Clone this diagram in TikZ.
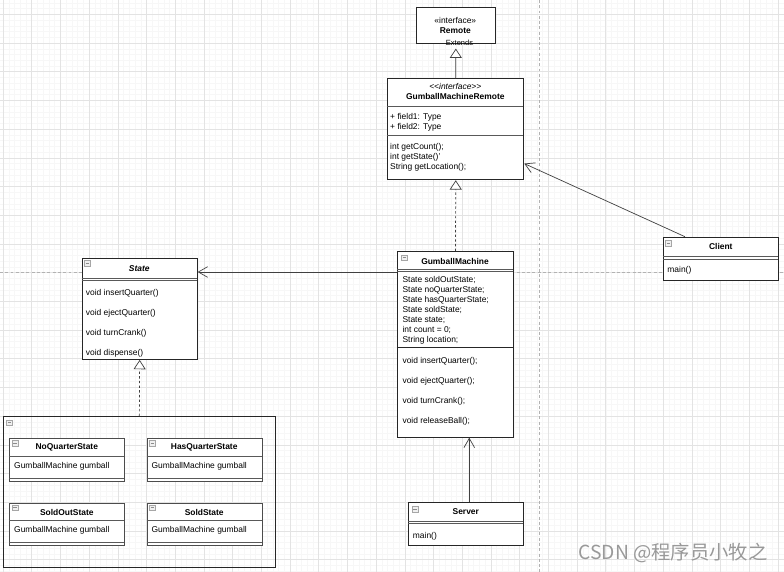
\documentclass[tikz,border=0pt]{standalone}
\usepackage{fontspec}
\setmainfont{Liberation Sans}
\newfontfamily\cjkfont{Noto Sans CJK SC}
\usetikzlibrary{arrows.meta,shapes}

\tikzset{
  cls/.style={draw=black!85, line width=0.8pt, fill=white, anchor=north west, inner sep=0pt},
  sub/.style={cls, draw=black!70, line width=0.7pt},
  sep/.style={draw=black!65, line width=0.6pt},
  icon/.style={draw=gray!70, fill=gray!12, line width=0.4pt, minimum size=0.17cm, inner sep=0pt,
    path picture={\draw[gray!90, line width=0.5pt] ([xshift=1pt]path picture bounding box.west) -- ([xshift=-1pt]path picture bounding box.east);}},
  txt/.style={font=\fontsize{7.2}{8.5}\selectfont, inner sep=0pt},
  hd/.style={font=\fontsize{7.2}{8.5}\selectfont\bfseries, inner sep=0pt},
  lst/.style={font=\fontsize{7.2}{8.5}\selectfont, inner sep=0pt, align=left, anchor=north west},
  wide/.style={font=\fontsize{7.2}{17}\selectfont, inner sep=0pt, align=left, anchor=north west},
  assoc/.style={draw=black!75, line width=0.6pt, -{Straight Barb[length=0.28cm, width=0.32cm]}},
  inherit/.style={draw=black!75, line width=0.6pt, -{Triangle[open, length=0.28cm, width=0.36cm, fill=white]}},
  realize/.style={inherit, dash pattern=on 2pt off 2pt},
  gridminor/.style={draw=black!3, line width=0.35pt},
  gridmajor/.style={draw=black!11, line width=0.5pt},
  pagebreak/.style={draw=black!30, line width=0.5pt, dash pattern=on 2.5pt off 2pt}
}

\begin{document}
\begin{tikzpicture}[x=0.03cm, y=-0.03cm]
\useasboundingbox (0,0) rectangle (784,572);

% Background grid
\fill[white] (0,0) rectangle (784,572);
\foreach \i in {0,...,136} \draw[gridminor] ({-2.74+5.74*\i},0) -- ({-2.74+5.74*\i},572);
\foreach \i in {0,...,99} \draw[gridminor] (0,{2.82+5.74*\i}) -- (784,{2.82+5.74*\i});
\foreach \i in {0,...,27} \draw[gridmajor] ({3+28.7*\i},0) -- ({3+28.7*\i},572);
\foreach \i in {0,...,19} \draw[gridmajor] (0,{14.3+28.7*\i}) -- (784,{14.3+28.7*\i});

% Page breaks
\draw[pagebreak] (539.5,0) -- (539.5,572);
\draw[pagebreak] (0,272) -- (784,272);

% Remote
\node[cls, minimum width=2.38cm, minimum height=1.06cm] (remote) at (415.7,7.3) {};
\node[txt] (remoteint) at (455.3,20.7) {«interface»};
\node[hd] (remotename) at (455.3,30.3) {Remote};

% GumballMachineRemote
\node[cls, minimum width=4.08cm, minimum height=3.03cm] (gmr) at (387.3,78.3) {};
\node[txt, font=\fontsize{7.2}{8.5}\selectfont\itshape] (gmrint) at (455.3,86.7) {\textless\kern0pt\textless interface\textgreater\kern0pt\textgreater};
\node[hd] (gmrname) at (455.3,96.7) {GumballMachineRemote};
\draw[sep] (387.3,106.7) -- (523.3,106.7);
\node[lst] (gmrfields) at (390,112.8) {+ field1: Type\\+ field2: Type};
\draw[sep] (387.3,135.3) -- (523.3,135.3);
\node[lst] (gmrmethods) at (390,142.8) {int getCount();\\int getState()'\\String getLocation();};

% GumballMachine
\node[cls, minimum width=3.46cm, minimum height=5.57cm] (gm) at (397.3,251) {};
\node[icon] (gmicon) at (404.3,257.7) {};
\node[hd] (gmname) at (455,261) {GumballMachine};
\draw[sep] (397.3,269) -- (512.7,269);
\draw[sep] (397.3,271.3) -- (512.7,271.3);
\node[lst] (gmfields) at (402.3,276) {State soldOutState;\\State noQuarterState;\\State hasQuarterState;\\State soldState;\\State state;\\int count = 0;\\String location;};
\draw[cls] (397.3,347.7) -- (512.7,347.7);
\node[wide] (gmmethods) at (402.3,357.4) {void insertQuarter();\\void ejectQuarter();\\void turnCrank();\\void releaseBall();};

% State
\node[cls, minimum width=3.45cm, minimum height=3.02cm] (state) at (81.7,258.3) {};
\node[icon] (stateicon) at (87.3,263.3) {};
\node[hd, font=\fontsize{7.2}{8.5}\selectfont\bfseries\itshape] (statename) at (139.3,268.3) {State};
\draw[sep] (81.7,278.3) -- (196.7,278.3);
\draw[sep] (81.7,280.4) -- (196.7,280.4);
\node[wide] (statemethods) at (85.7,289.4) {void insertQuarter()\\void ejectQuarter()\\void turnCrank()\\void dispense()};

% Client
\node[cls, minimum width=3.45cm, minimum height=1.3cm] (client) at (663.3,236.7) {};
\node[icon] (clienticon) at (668.5,243.5) {};
\node[hd] (clientname) at (720.8,246.7) {Client};
\draw[sep] (663.3,256.7) -- (778.3,256.7);
\draw[sep] (663.3,258.9) -- (778.3,258.9);
\node[txt, anchor=west] (clientmain) at (667.2,270.7) {main()};

% Server
\node[cls, minimum width=3.45cm, minimum height=1.28cm] (server) at (408.3,502.3) {};
\node[icon] (servericon) at (415,509) {};
\node[hd] (servername) at (465.8,511.7) {Server};
\draw[sep] (408.3,521.3) -- (523.3,521.3);
\draw[sep] (408.3,523.8) -- (523.3,523.8);
\node[txt, anchor=west] (servermain) at (412.7,536.7) {main()};

% State implementations
\node[cls, fill=none, minimum width=8.17cm, minimum height=4.53cm] (impl) at (2.7,416) {};
\node[icon] (implicon) at (9.3,422.7) {};

\node[sub, minimum width=3.45cm, minimum height=1.28cm] (noq) at (9.3,438.3) {};
\node[icon] (noqicon) at (15,443.3) {};
\node[hd] (noqname) at (66.8,447.7) {NoQuarterState};
\draw[sep] (9.3,456) -- (124.3,456);
\node[txt, anchor=west] (noqfield) at (14,466) {GumballMachine gumball};
\draw[sep] (9.3,478.3) -- (124.3,478.3);

\node[sub, minimum width=3.45cm, minimum height=1.28cm] (hasq) at (146.7,438.3) {};
\node[icon] (hasqicon) at (152.4,443.3) {};
\node[hd] (hasqname) at (204.2,447.7) {HasQuarterState};
\draw[sep] (146.7,456) -- (261.7,456);
\node[txt, anchor=west] (hasqfield) at (151.4,466) {GumballMachine gumball};
\draw[sep] (146.7,478.3) -- (261.7,478.3);

\node[sub, minimum width=3.45cm, minimum height=1.28cm] (soldout) at (9.3,502.7) {};
\node[icon] (soldouticon) at (15,507.7) {};
\node[hd] (soldoutname) at (66.8,512.1) {SoldOutState};
\draw[sep] (9.3,520.4) -- (124.3,520.4);
\node[txt, anchor=west] (soldoutfield) at (14,530.4) {GumballMachine gumball};
\draw[sep] (9.3,542.7) -- (124.3,542.7);

\node[sub, minimum width=3.45cm, minimum height=1.28cm] (sold) at (146.7,502.7) {};
\node[icon] (soldicon) at (152.4,507.7) {};
\node[hd] (soldname) at (204.2,512.1) {SoldState};
\draw[sep] (146.7,520.4) -- (261.7,520.4);
\node[txt, anchor=west] (soldfield) at (151.4,530.4) {GumballMachine gumball};
\draw[sep] (146.7,542.7) -- (261.7,542.7);

% Relations
\coordinate (remotein) at ([yshift=-0.15cm]remote.south);
\draw[inherit] (gmr.north) -- (remotein);
\node[txt, font=\fontsize{6.4}{7}\selectfont] (ext) at (459.5,43.3) {Extends};
\draw[realize] (gm.north) -- (gmr.south);
\coordinate (gmin) at ([yshift=-0.63cm]gm.north west);
\draw[assoc] (gmin) -- (gmin -| state.east);
\draw[realize] (impl.north) -- (state.south);
\coordinate (clientout) at ([xshift=0.65cm]client.north west);
\coordinate (gmrin) at ([yshift=0.5cm]gmr.south east);
\draw[assoc] (clientout) -- (gmrin);
\coordinate (serverout) at ([xshift=0.09cm]server.north);
\draw[assoc] (serverout) -- (serverout |- gm.south);

% Watermark
\node[font=\cjkfont\fontsize{16.5}{18}\selectfont, text=black!40, inner sep=0pt] (mark) at (673,553.3) {CSDN @程序员小牧之};

\end{tikzpicture}
\end{document}
